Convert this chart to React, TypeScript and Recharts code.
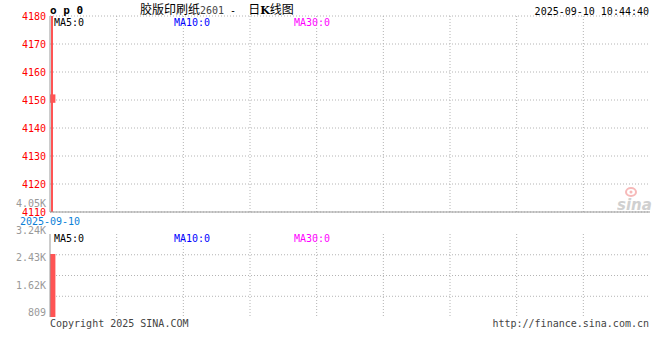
import { Bar, CartesianGrid, ComposedChart, XAxis, YAxis } from "recharts";

// one trading day so far
const dates = ["2025-09-10"];
const opens = [4149];
const closes = [4152];
const highs = [4180];
const lows = [4110];
const volumes = [2460];

const priceTicks = [4110, 4120, 4130, 4140, 4150, 4160, 4170, 4180];
const volumeTicks = [809, 1620, 2430, 3240, 4050];
const volumeTickLabels = ["809", "1.62K", "2.43K", "3.24K", "4.05K"];
const maLabels = ["MA5:0", "MA10:0", "MA30:0"];
const maColors = ["#000000", "#0000ff", "#ff00ff"];

const kData = dates.map((date, i) => ({
  date,
  open: opens[i],
  close: closes[i],
  high: highs[i],
  low: lows[i],
  volume: volumes[i],
}));

const MONO = "'DejaVu Sans Mono', 'Liberation Mono', monospace";
const CJK = "'Noto Sans CJK SC', sans-serif";
const UP = "#ff5454";
const BORDER = "#999999";
const GRID = "#b4b4b4";
const SLOT = 6;
const PLOT_W = 600;

const columns = ({ offset }: any) =>
  Array.from({ length: 8 }, (_, i) => offset.left + ((i + 1) * offset.width) / 9);

const Candle = (props: any) => {
  const { x, y, width, height, payload } = props;
  const { open, close, high, low } = payload;
  const k = height / (high - low);
  const top = y + (high - Math.max(open, close)) * k;
  const bodyH = Math.max(Math.abs(close - open) * k, 1);
  return (
    <g>
      <rect x={x + 1} y={y} width={2} height={height} fill={UP} />
      <rect x={x} y={top} width={width} height={bodyH} fill={UP} />
    </g>
  );
};

const DateTick = (props: any) => {
  const { x, y, payload } = props;
  return (
    <text x={x - 3} y={y + 13} textAnchor="middle" fontSize={10} fontFamily={MONO} fill="#0b7fd7">
      {payload.value}
    </text>
  );
};

// sina spreads the volume labels out a bit around the pane
const VolTick = (props: any) => {
  const { x, y, index } = props;
  const ly = y + (y - 55) * 0.32;
  return (
    <text x={x} y={ly} dy="0.355em" textAnchor="end" fontSize={10} fontFamily={MONO} fill="#999">
      {volumeTickLabels[index]}
    </text>
  );
};

const App = () => {
  return (
    <div style={{ position: "absolute", left: 0, top: 0, width: 660, height: 360, background: "#fff" }}>
      <div style={{ position: "absolute", left: 0, top: 0 }}>
        <ComposedChart width={660} height={230} data={kData} margin={{ top: 16, right: 10, bottom: 0, left: 0 }}>
          <CartesianGrid
            xAxisId="k"
            yAxisId="p"
            stroke={GRID}
            strokeDasharray="1 2"
            verticalCoordinatesGenerator={columns}
          />
          <XAxis
            xAxisId="k"
            dataKey="date"
            padding={{ left: 0, right: PLOT_W - SLOT }}
            height={18}
            tickSize={0}
            tickMargin={0}
            interval={0}
            tick={<DateTick />}
            axisLine={{ stroke: BORDER }}
          />
          <XAxis xAxisId="top" orientation="top" height={0} tick={false} tickLine={false} axisLine={{ stroke: BORDER }} />
          <YAxis
            yAxisId="p"
            domain={[4110, 4180]}
            ticks={priceTicks}
            interval={0}
            allowDataOverflow
            width={50}
            tickSize={0}
            tickMargin={4}
            tick={{ fill: "#ff0000", fontSize: 10, fontFamily: MONO }}
            axisLine={{ stroke: BORDER }}
          />
          <YAxis yAxisId="r" orientation="right" width={0} tick={false} tickLine={false} axisLine={{ stroke: BORDER }} />
          <Bar
            xAxisId="k"
            yAxisId="p"
            dataKey={(d: any) => [d.low, d.high]}
            barSize={SLOT}
            shape={<Candle />}
            isAnimationActive={false}
          />
        </ComposedChart>
      </div>

      <div style={{ position: "absolute", left: 0, top: 190 }}>
        <ComposedChart width={660} height={130} data={kData} margin={{ top: 44, right: 10, bottom: 3, left: 0 }}>
          <CartesianGrid
            xAxisId="k"
            yAxisId="v"
            stroke={GRID}
            strokeDasharray="1 2"
            horizontalValues={[809, 1620, 2430]}
            verticalCoordinatesGenerator={columns}
          />
          <XAxis
            xAxisId="k"
            dataKey="date"
            padding={{ left: 0, right: PLOT_W - SLOT }}
            height={0}
            tick={false}
            tickLine={false}
            axisLine={{ stroke: BORDER }}
          />
          <XAxis xAxisId="top" orientation="top" height={0} tick={false} tickLine={false} axisLine={{ stroke: BORDER }} />
          <YAxis
            yAxisId="v"
            domain={[0, 3240]}
            ticks={volumeTicks}
            interval={0}
            width={50}
            tickSize={0}
            tickMargin={4}
            tick={<VolTick />}
            axisLine={{ stroke: BORDER }}
          />
          <YAxis yAxisId="r" orientation="right" width={0} tick={false} tickLine={false} axisLine={{ stroke: BORDER }} />
          <Bar xAxisId="k" yAxisId="v" dataKey="volume" barSize={SLOT} fill={UP} isAnimationActive={false} />
        </ComposedChart>
      </div>

      <svg width={660} height={360} style={{ position: "absolute", left: 0, top: 0, pointerEvents: "none" }}>
        <text x={50} y={14} fontSize={11} fontWeight="bold" fontFamily={MONO} fill="#000">
          o p 0
        </text>
        <text x={140} y={14} fontSize={12} fontFamily={CJK} fill="#000">
          <tspan>胶版印刷纸</tspan>
          <tspan fontFamily={MONO} fontSize={10} fill="#444">2601</tspan>
          <tspan fontFamily={MONO} fontSize={10} dx={6}>-</tspan>
          <tspan dx={12}>日</tspan>
          <tspan fontWeight="bold" fontFamily="'DejaVu Serif', serif" fontSize={11}>K</tspan>
          <tspan>线图</tspan>
        </text>
        <text x={649} y={15} textAnchor="end" fontSize={10} fontFamily={MONO} fill="#000">
          2025-09-10 10:44:40
        </text>
        {maLabels.map((m, i) => (
          <text key={"m" + m} x={54 + i * 120} y={26} fontSize={10} fontFamily={MONO} fill={maColors[i]}>
            {m}
          </text>
        ))}
        {maLabels.map((m, i) => (
          <text key={"v" + m} x={54 + i * 120} y={242} fontSize={10} fontFamily={MONO} fill={maColors[i]}>
            {m}
          </text>
        ))}
        <text x={50} y={327} fontSize={10} fontFamily={MONO} fill="#444">
          Copyright 2025 SINA.COM
        </text>
        <text x={649} y={327} textAnchor="end" fontSize={10} fontFamily={MONO} fill="#444">
          http://finance.sina.com.cn
        </text>
        <g opacity={0.55}>
          <ellipse cx={631} cy={192} rx={5} ry={4} fill="none" stroke="#f08080" strokeWidth={2} />
          <circle cx={631} cy={192} r={1.5} fill="#f08080" />
          <text x={617} y={210} fontSize={15} fontStyle="italic" fontWeight="bold" fontFamily="'DejaVu Sans', sans-serif" fill="#aaa">
            sina
          </text>
        </g>
      </svg>
    </div>
  );
};

export default App;
